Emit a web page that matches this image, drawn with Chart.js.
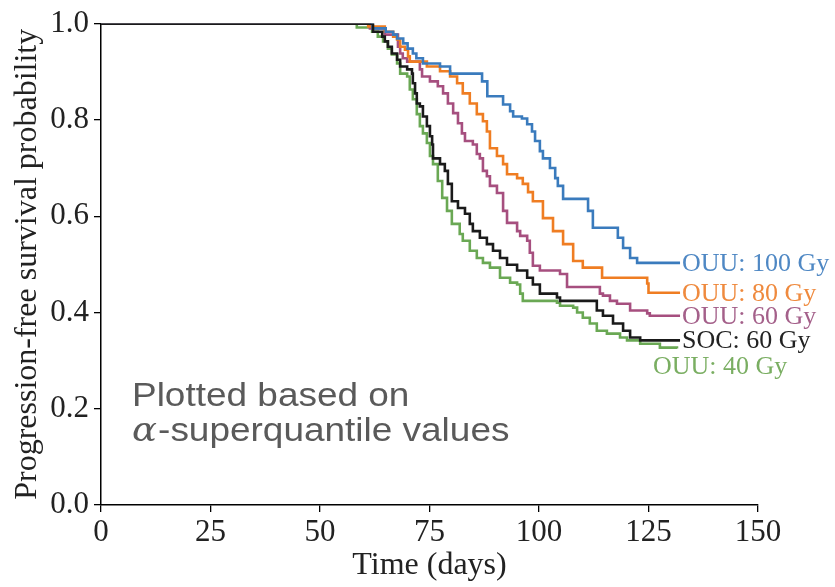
<!DOCTYPE html>
<html>
<head>
<meta charset="utf-8">
<script src="https://cdn.jsdelivr.net/npm/chart.js@4/dist/chart.umd.min.js"></script>
<style>
  html, body { margin: 0; padding: 0; background: #fff; }
  #wrap { width: 835px; height: 587px; }
</style>
</head>
<body>
<div id="wrap"><canvas id="chart" width="835" height="587"></canvas></div>
<script>
// step curves: day of each drop and the value after it
const blueDays = [0, 62, 65, 66.7, 67.6, 69, 70, 71.2, 72, 73.5, 77.4, 79.7, 87, 88.2, 91.8, 93.4, 94.1, 96.1, 97.3, 98.4, 99.1, 100.2, 100.9, 102.5, 103.7, 104.3, 105.5, 111.2, 112.3, 118, 119.2, 120.8, 122.4, 132.2];
const blueProb = [1.0, 0.990, 0.983, 0.977, 0.969, 0.959, 0.948, 0.938, 0.928, 0.917, 0.911, 0.896, 0.880, 0.849, 0.832, 0.818, 0.807, 0.803, 0.791, 0.776, 0.756, 0.735, 0.720, 0.700, 0.679, 0.663, 0.636, 0.611, 0.576, 0.555, 0.534, 0.513, 0.503, 0.503];

const orangeDays = [0, 61, 64.8, 66.7, 67.6, 68.3, 69.4, 70.1, 70.5, 74.4, 77.4, 79.7, 81.3, 82.6, 84.2, 85.8, 87.2, 88.1, 88.8, 90.4, 91.8, 92.7, 95, 96.3, 97.5, 98.6, 100.9, 103.2, 105.5, 107.8, 110, 114.4, 124.7, 125, 132.2];
const orangeProb = [1.0, 0.994, 0.983, 0.973, 0.967, 0.952, 0.946, 0.932, 0.921, 0.911, 0.901, 0.890, 0.876, 0.855, 0.834, 0.812, 0.797, 0.776, 0.741, 0.725, 0.708, 0.687, 0.679, 0.667, 0.650, 0.631, 0.596, 0.569, 0.542, 0.507, 0.493, 0.472, 0.460, 0.441, 0.441];

const purpleDays = [0, 61.4, 64.8, 67.8, 68.3, 68.9, 69.9, 72.8, 73.3, 75.1, 76.9, 78.1, 79.2, 80.4, 81.5, 82.4, 83.1, 84.9, 85.8, 86.5, 87.2, 88.1, 88.8, 90.4, 91.8, 92.7, 95, 95.7, 97.3, 97.9, 98.6, 100.2, 104.8, 106.4, 113.9, 114.6, 116.2, 117.8, 120.8, 124.7, 125.3, 132.2];
const purpleProb = [1.0, 0.990, 0.977, 0.952, 0.938, 0.928, 0.921, 0.905, 0.890, 0.880, 0.870, 0.855, 0.834, 0.814, 0.793, 0.772, 0.756, 0.749, 0.729, 0.720, 0.694, 0.683, 0.663, 0.648, 0.611, 0.586, 0.569, 0.559, 0.549, 0.524, 0.497, 0.487, 0.480, 0.453, 0.439, 0.435, 0.424, 0.418, 0.404, 0.398, 0.393, 0.393];

const socDays = [0, 62.1, 64.2, 64.8, 65.5, 66.4, 67.6, 68.3, 69.9, 71, 71.2, 71.7, 72.1, 72.8, 73.5, 74.4, 75.1, 75.6, 75.8, 77.4, 78.5, 79.2, 80.1, 81.5, 83.1, 84.2, 84.9, 86.5, 88.1, 89.5, 91.1, 92.7, 95, 97.3, 98.6, 100.2, 104.1, 104.8, 113.2, 114.6, 116.9, 119.2, 120.8, 123.1, 132.2];
const socProb = [1.0, 0.983, 0.973, 0.963, 0.952, 0.938, 0.925, 0.911, 0.905, 0.896, 0.876, 0.855, 0.834, 0.828, 0.807, 0.787, 0.766, 0.749, 0.720, 0.708, 0.694, 0.667, 0.631, 0.617, 0.605, 0.584, 0.569, 0.555, 0.542, 0.528, 0.513, 0.499, 0.487, 0.472, 0.458, 0.439, 0.431, 0.424, 0.404, 0.393, 0.377, 0.362, 0.348, 0.342, 0.342];

const greenDays = [0, 58.4, 61.9, 63.2, 64.4, 65.5, 66.4, 67.6, 68.3, 69.9, 70.5, 71.2, 72.1, 72.8, 73.5, 74.4, 75.1, 75.8, 76.9, 77.9, 79, 80.1, 81.9, 82.6, 84.2, 85.8, 87.2, 88.8, 91.1, 93.4, 95, 95.7, 96.3, 104.1, 104.8, 107.8, 108.7, 110, 111.6, 113.2, 115.5, 118.5, 120.1, 123.1, 127.6, 131.5];
const greenProb = [1.0, 0.992, 0.983, 0.973, 0.963, 0.948, 0.936, 0.917, 0.896, 0.890, 0.863, 0.843, 0.812, 0.787, 0.772, 0.752, 0.725, 0.708, 0.673, 0.638, 0.611, 0.584, 0.563, 0.549, 0.528, 0.513, 0.503, 0.493, 0.472, 0.462, 0.458, 0.439, 0.424, 0.420, 0.414, 0.410, 0.400, 0.389, 0.377, 0.362, 0.356, 0.348, 0.342, 0.335, 0.327, 0.325];

const seriesNames = ["OUU: 100 Gy", "OUU: 80 Gy", "OUU: 60 Gy", "SOC: 60 Gy", "OUU: 40 Gy"];
const xTicks = [0, 25, 50, 75, 100, 125, 150];
const yTicks = [0.0, 0.2, 0.4, 0.6, 0.8, 1.0];

const lineColors = ["#3a7bbd", "#ef7d22", "#a64f7f", "#1a1a1a", "#6aa854"];
const labelColors = ["#4f88c4", "#ef8a3e", "#a4608a", "#222222", "#7aae62"];

function pts(days, probs) {
  return days.map((d, i) => ({ x: d, y: probs[i] }));
}

const serif = "'Liberation Serif', 'Times New Roman', serif";

// end-of-curve labels; the 40 Gy one sits below and to the left
const endLabels = {
  id: "endLabels",
  afterDatasetsDraw(chart) {
    const ctx = chart.ctx;
    const xs = chart.scales.x, ys = chart.scales.y;
    ctx.save();
    ctx.font = "26px " + serif;
    ctx.textBaseline = "middle";
    ctx.textAlign = "left";
    chart.data.datasets.forEach((ds, i) => {
      const last = ds.data[ds.data.length - 1];
      let px = xs.getPixelForValue(last.x) + 2;
      let py = ys.getPixelForValue(last.y) + 1;
      if (i === 4) { px -= 26; py += 18; }
      ctx.fillStyle = labelColors[i];
      ctx.fillText(seriesNames[i], px, py);
    });
    ctx.restore();
  }
};

const note = {
  id: "note",
  afterDraw(chart) {
    const ctx = chart.ctx;
    const a = chart.chartArea;
    ctx.save();
    ctx.fillStyle = "#5a5a5a";
    ctx.textBaseline = "alphabetic";
    ctx.translate(a.left + 31, 0);
    ctx.scale(1.12, 1);
    ctx.font = "33px 'Liberation Sans', Arial, sans-serif";
    ctx.fillText("Plotted based on", 0, 406);
    ctx.font = "italic 33px 'DejaVu Serif', serif";
    ctx.fillText("\u03b1", 0, 441);
    const w = ctx.measureText("\u03b1").width;
    ctx.font = "33px 'Liberation Sans', Arial, sans-serif";
    ctx.fillText("-superquantile values", w + 1, 441);
    ctx.restore();
  }
};

const datasets = [
  [blueDays, blueProb], [orangeDays, orangeProb], [purpleDays, purpleProb],
  [socDays, socProb], [greenDays, greenProb]
].map((s, i) => ({
  label: seriesNames[i],
  data: pts(s[0], s[1]),
  borderColor: lineColors[i],
  backgroundColor: lineColors[i],
  borderWidth: 2.6,
  pointRadius: 0,
  stepped: true,
  fill: false,
  order: i === 3 ? 0 : 1
}));

new Chart(document.getElementById("chart").getContext("2d"), {
  type: "line",
  data: { datasets },
  options: {
    responsive: false,
    animation: false,
    layout: { padding: { left: 0, right: 77, top: 22, bottom: 0 } },
    plugins: { legend: { display: false }, tooltip: { enabled: false } },
    scales: {
      x: {
        type: "linear",
        min: 0, max: 150,
        afterBuildTicks: (s) => { s.ticks = xTicks.map(v => ({ value: v })); },
        afterFit: (s) => { s.height = 82; },
        ticks: { color: "#222", font: { family: serif, size: 31 }, padding: 2, maxRotation: 0 },
        grid: { drawOnChartArea: false, drawTicks: true, tickLength: 7, color: "#000", lineWidth: 1.3 },
        border: { color: "#000", width: 1.5 },
        title: { display: true, text: "Time (days)", color: "#222", font: { family: serif, size: 32 }, padding: { top: 0, bottom: 2 } }
      },
      y: {
        min: 0, max: 1,
        afterBuildTicks: (s) => { s.ticks = yTicks.map(v => ({ value: v })); },
        afterFit: (s) => { s.width = 101; },
        ticks: { color: "#222", font: { family: serif, size: 31 }, padding: 5, callback: (v) => v.toFixed(1) },
        grid: { drawOnChartArea: false, drawTicks: true, tickLength: 7, color: "#000", lineWidth: 1.3 },
        border: { color: "#000", width: 1.5 },
        title: { display: true, text: "Progression-free survival probability", color: "#222", font: { family: serif, size: 32 }, padding: { top: 8, bottom: 0 } }
      }
    }
  },
  plugins: [endLabels, note]
});
</script>
</body>
</html>
